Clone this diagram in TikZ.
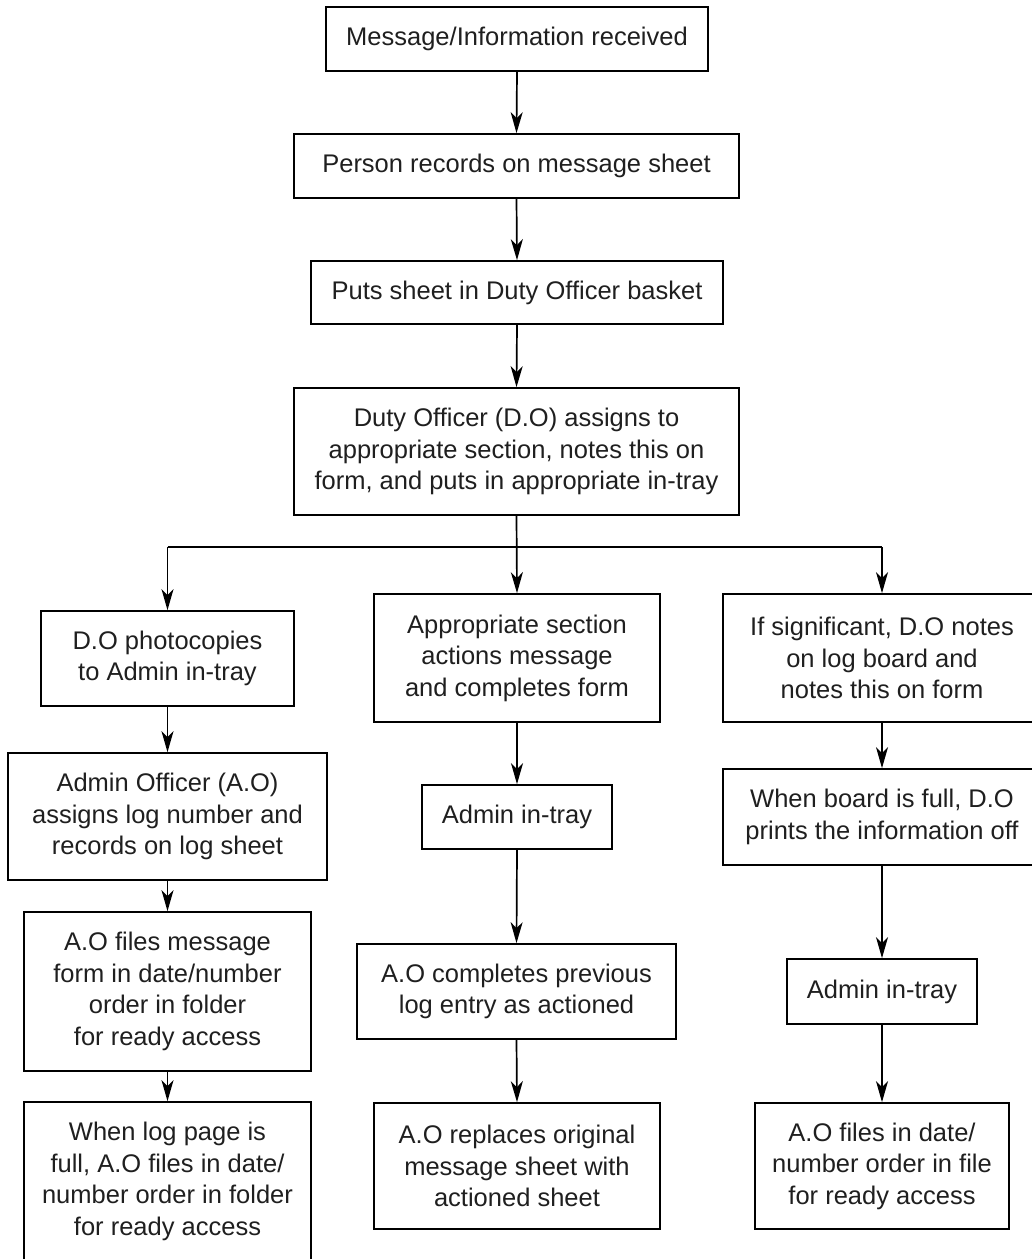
\documentclass[tikz,border=0pt]{standalone}
\usepackage{fontspec}
\setmainfont{Liberation Sans}
\usetikzlibrary{arrows.meta}
\tikzset{
  box/.style={draw, line width=1.7pt, align=center, inner sep=0pt,
    font=\fontsize{25.5}{31.5}\selectfont, text=black!88},
  arr/.style={line width=1.7pt, -{Stealth[length=21pt,width=12pt,inset=6pt]}},
  plain/.style={line width=1.7pt}
}
\begin{document}
\begin{tikzpicture}[x=1pt,y=-1pt]
\useasboundingbox (0,0) rectangle (1032,1259);
\clip (0,0) rectangle (1032,1259);
% top column
\node[box, minimum width=382pt, minimum height=64pt] (n1) at (517,39) {Message/Information received};
\node[box, minimum width=445pt, minimum height=64pt] (n2) at (516.5,166) {Person records on message sheet};
\node[box, minimum width=412pt, minimum height=63pt] (n3) at (517,292.5) {Puts sheet in Duty Officer basket};
\node[box, minimum width=445pt, minimum height=127pt] (n4) at (516.5,451.5) {Duty Officer (D.O) assigns to\\appropriate section, notes this on\\form, and puts in appropriate in-tray};
% left column
\node[box, minimum width=253pt, minimum height=95pt] (n5) at (167.5,658.5) {D.O photocopies\\to Admin in-tray};
\node[box, minimum width=319pt, minimum height=127pt] (n8) at (167.5,816.5) {Admin Officer (A.O)\\assigns log number and\\records on log sheet};
\node[box, minimum width=287pt, minimum height=159pt] (n11) at (167.5,991.5) {A.O files message\\form in date/number\\order in folder\\for ready access};
\node[box, minimum width=287pt, minimum height=159pt] (n14) at (167.5,1181.5) {When log page is\\full, A.O files in date/\\number order in folder\\for ready access};
% middle column
\node[box, minimum width=286pt, minimum height=128pt] (n6) at (517,658) {Appropriate section\\actions message\\and completes form};
\node[box, minimum width=190pt, minimum height=64pt] (n9) at (517,817) {Admin in-tray};
\node[box, minimum width=319pt, minimum height=95pt] (n12) at (516.5,991.5) {A.O completes previous\\log entry as actioned};
\node[box, minimum width=286pt, minimum height=126pt] (n15) at (517,1166) {A.O replaces original\\message sheet with\\actioned sheet};
% right column
\node[box, minimum width=318pt, minimum height=128pt] (n7) at (882,658) {If significant, D.O notes\\on log board and\\notes this on form};
\node[box, minimum width=318pt, minimum height=96pt] (n10) at (882,817) {When board is full, D.O\\prints the information off};
\node[box, minimum width=190pt, minimum height=65pt] (n13) at (882,991.5) {Admin in-tray};
\node[box, minimum width=254pt, minimum height=126pt] (n16) at (882,1166) {A.O files in date/\\number order in file\\for ready access};
% connectors
\draw[arr] (n1.south) -- (n2.north);
\draw[arr] (n2.south) -- (n3.north);
\draw[arr] (n3.south) -- (n4.north);
\coordinate (bl) at (167.5,547);
\coordinate (br) at (882,547);
\draw[plain] (bl) -- (br);
\draw[arr] (n4.south) -- (n6.north);
\draw[arr] (bl) -- (n5.north);
\draw[arr] (br) -- (n7.north);
\draw[arr] (n5.south) -- (n8.north);
\draw[arr] (n8.south) -- (n11.north);
\draw[arr] (n11.south) -- (n14.north);
\draw[arr] (n6.south) -- (n9.north);
\draw[arr] (n9.south) -- (n12.north);
\draw[arr] (n12.south) -- (n15.north);
\draw[arr] (n7.south) -- (n10.north);
\draw[arr] (n10.south) -- (n13.north);
\draw[arr] (n13.south) -- (n16.north);
\end{tikzpicture}
\end{document}
